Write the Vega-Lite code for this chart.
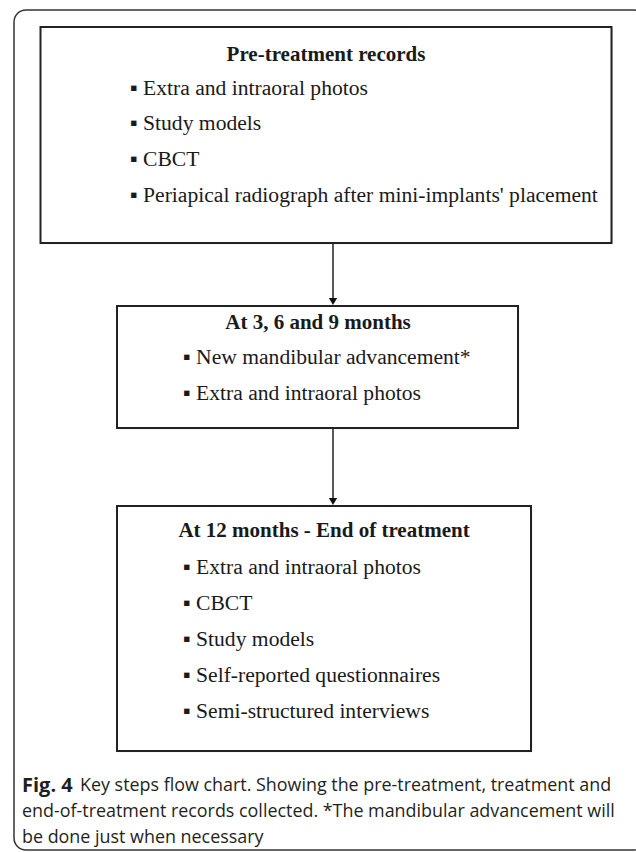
{
  "$schema": "https://vega.github.io/schema/vega-lite/v6.json",
  "width": 636,
  "height": 852,
  "autosize": "none",
  "padding": 0,
  "background": "white",
  "config": {"view": {"stroke": null}},
  "datasets": {
    "frame": [{"x": 14, "x2": 646, "y": 10, "y2": 850}],
    "boxes": [
      {"box": "pre", "x": 40.5, "x2": 611.5, "y": 27, "y2": 243},
      {"box": "mid", "x": 117, "x2": 518, "y": 306, "y2": 428},
      {"box": "end", "x": 117, "x2": 531, "y": 506, "y2": 751}
    ],
    "arrows": [
      {"x": 333, "y": 243, "y2": 300},
      {"x": 333, "y": 428, "y2": 500}
    ],
    "heads": [
      {"x": 333, "y": 301.5},
      {"x": 333, "y": 501.5}
    ],
    "titles": [
      {"x": 326, "y": 55, "label": "Pre-treatment records"},
      {"x": 318, "y": 323, "label": "At 3, 6 and 9 months"},
      {"x": 324, "y": 531, "label": "At 12 months - End of treatment"}
    ],
    "items": [
      {"x": 130, "y": 89, "label": "▪ Extra and intraoral photos"},
      {"x": 130, "y": 124, "label": "▪ Study models"},
      {"x": 130, "y": 160, "label": "▪ CBCT"},
      {"x": 130, "y": 196, "label": "▪ Periapical radiograph after mini-implants' placement"},
      {"x": 183, "y": 358, "label": "▪ New mandibular advancement*"},
      {"x": 183, "y": 394, "label": "▪ Extra and intraoral photos"},
      {"x": 183, "y": 568, "label": "▪ Extra and intraoral photos"},
      {"x": 183, "y": 604, "label": "▪ CBCT"},
      {"x": 183, "y": 640, "label": "▪ Study models"},
      {"x": 183, "y": 676, "label": "▪ Self-reported questionnaires"},
      {"x": 183, "y": 712, "label": "▪ Semi-structured interviews"}
    ],
    "capbold": [{"x": 22, "y": 786, "label": "Fig. 4"}],
    "caption": [
      {"x": 80, "y": 786, "label": "Key steps flow chart. Showing the pre-treatment, treatment and"},
      {"x": 22, "y": 812, "label": "end-of-treatment records collected. *The mandibular advancement will"},
      {"x": 22, "y": 838, "label": "be done just when necessary"}
    ]
  },
  "encoding": {},
  "layer": [
    {
      "data": {"name": "frame"},
      "mark": {"type": "rect", "fill": null, "stroke": "#333333", "strokeWidth": 1.5, "cornerRadius": 12, "clip": false},
      "encoding": {
        "x": {"field": "x", "type": "quantitative", "scale": {"domain": [0, 636], "nice": false, "zero": false}, "axis": null},
        "x2": {"field": "x2"},
        "y": {"field": "y", "type": "quantitative", "scale": {"domain": [0, 852], "nice": false, "zero": false, "reverse": true}, "axis": null},
        "y2": {"field": "y2"}
      }
    },
    {
      "data": {"name": "boxes"},
      "mark": {"type": "rect", "fill": null, "stroke": "#dddddd", "strokeWidth": 2.5, "xOffset": 1.5, "yOffset": 2.5},
      "encoding": {
        "x": {"field": "x", "type": "quantitative"},
        "x2": {"field": "x2"},
        "y": {"field": "y", "type": "quantitative"},
        "y2": {"field": "y2"}
      }
    },
    {
      "data": {"name": "boxes"},
      "mark": {"type": "rect", "fill": "white", "stroke": "#222222", "strokeWidth": 2},
      "encoding": {
        "x": {"field": "x", "type": "quantitative"},
        "x2": {"field": "x2"},
        "y": {"field": "y", "type": "quantitative"},
        "y2": {"field": "y2"}
      }
    },
    {
      "data": {"name": "arrows"},
      "mark": {"type": "rule", "color": "#222222", "strokeWidth": 1.5},
      "encoding": {
        "x": {"field": "x", "type": "quantitative"},
        "y": {"field": "y", "type": "quantitative"},
        "y2": {"field": "y2"}
      }
    },
    {
      "data": {"name": "heads"},
      "mark": {"type": "point", "shape": "triangle-down", "filled": true, "color": "#111111", "size": 70, "opacity": 1},
      "encoding": {
        "x": {"field": "x", "type": "quantitative"},
        "y": {"field": "y", "type": "quantitative"}
      }
    },
    {
      "data": {"name": "titles"},
      "mark": {"type": "text", "font": "Liberation Serif", "fontWeight": "bold", "fontSize": 21, "align": "center", "baseline": "middle", "color": "#1a1a1a"},
      "encoding": {
        "x": {"field": "x", "type": "quantitative"},
        "y": {"field": "y", "type": "quantitative"},
        "text": {"field": "label"}
      }
    },
    {
      "data": {"name": "items"},
      "mark": {"type": "text", "font": "Liberation Serif", "fontSize": 21.6, "align": "left", "baseline": "middle", "color": "#1a1a1a"},
      "encoding": {
        "x": {"field": "x", "type": "quantitative"},
        "y": {"field": "y", "type": "quantitative"},
        "text": {"field": "label"}
      }
    },
    {
      "data": {"name": "capbold"},
      "mark": {"type": "text", "font": "Open Sans", "fontWeight": "bold", "fontSize": 20, "align": "left", "baseline": "middle", "color": "#231f20"},
      "encoding": {
        "x": {"field": "x", "type": "quantitative"},
        "y": {"field": "y", "type": "quantitative"},
        "text": {"field": "label"}
      }
    },
    {
      "data": {"name": "caption"},
      "mark": {"type": "text", "font": "Open Sans", "fontSize": 17.9, "align": "left", "baseline": "middle", "color": "#231f20"},
      "encoding": {
        "x": {"field": "x", "type": "quantitative"},
        "y": {"field": "y", "type": "quantitative"},
        "text": {"field": "label"}
      }
    }
  ]
}
